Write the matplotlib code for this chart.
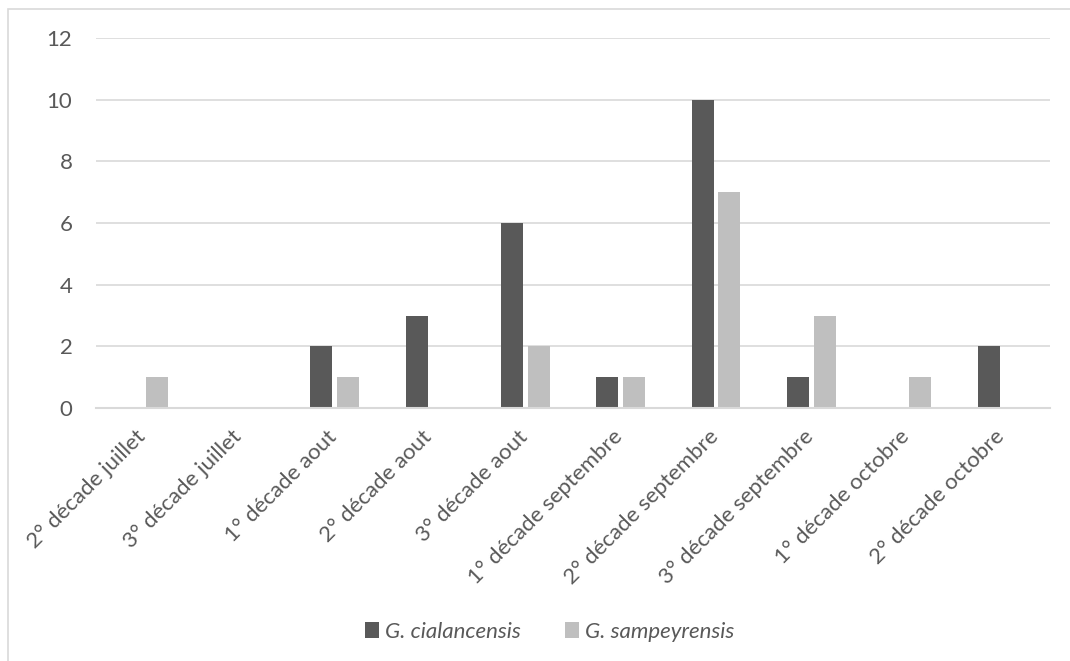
import numpy as np
import matplotlib
matplotlib.use("Agg")
import matplotlib.pyplot as plt
import matplotlib.transforms as mtransforms
from matplotlib.patches import Rectangle

categories = ["2° décade juillet", "3° décade juillet", "1° décade aout", "2° décade aout",
              "3° décade aout", "1° décade septembre", "2° décade septembre",
              "3° décade septembre", "1° décade octobre", "2° décade octobre"]
cialancensis = [0, 0, 2, 3, 6, 1, 10, 1, 0, 2]
sampeyrensis = [1, 0, 1, 0, 2, 1, 7, 3, 1, 0]
yticks = [0, 2, 4, 6, 8, 10, 12]

plt.rcParams['font.family'] = ['Lato', 'DejaVu Sans']
txt = "#595959"

fig = plt.figure(figsize=(10.7, 6.61), dpi=100)
ax = fig.add_axes([96/1070, 1-408/661, (1050-96)/1070, (408-38)/661])

x = np.arange(len(categories))
w = 0.23
off = 0.139
ax.bar(x - off, cialancensis, w, color="#595959", label="G. cialancensis", zorder=3)
ax.bar(x + off, sampeyrensis, w, color="#BFBFBF", label="G. sampeyrensis", zorder=3)

ax.set_xlim(-0.5, len(categories) - 0.5)
ax.set_ylim(0, 12)
ax.set_yticks(yticks)
ax.yaxis.grid(True, color="#D9D9D9", linewidth=1.2, zorder=0)
for s in ["top", "right", "left"]:
    ax.spines[s].set_visible(False)
ax.spines["bottom"].set_color("#D9D9D9")
ax.spines["bottom"].set_linewidth(1.5)
ax.spines["bottom"].set_zorder(4)
ax.tick_params(axis="both", length=0, colors=txt, labelsize=16)
ax.tick_params(axis="y", pad=17)
ax.set_xticks(x)
ax.set_xticklabels(categories, rotation=45, ha="right", rotation_mode="anchor", fontsize=16)
ax.tick_params(axis="x", pad=9)
shift = mtransforms.ScaledTranslation(-0.08, -0.06, fig.dpi_scale_trans)
for lab in ax.get_xticklabels():
    lab.set_transform(lab.get_transform() + shift)

leg = fig.legend(loc="center", bbox_to_anchor=(550/1070, 1-632/661), ncol=2, frameon=False,
                 handlelength=0.6, handleheight=0.7, handletextpad=0.3,
                 columnspacing=2.0, prop={'style': 'italic', 'size': 16})
for t in leg.get_texts():
    t.set_color(txt)

fig.patches.append(Rectangle((8/1070, -0.1), 1.2, 1 - 9/661 + 0.1, transform=fig.transFigure,
                             fill=False, edgecolor="#D9D9D9", linewidth=1.2))

fig.savefig("out.png", dpi=100)
